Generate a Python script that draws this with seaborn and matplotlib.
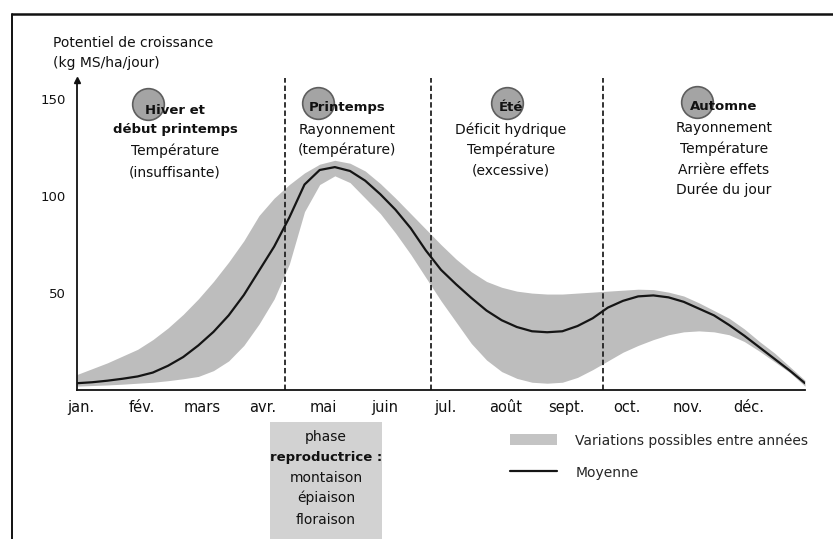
import numpy as np
import pandas as pd
import matplotlib
matplotlib.use("Agg")
import matplotlib.pyplot as plt
import seaborn as sns
from matplotlib.patches import Rectangle, Patch
from matplotlib.lines import Line2D
import matplotlib.transforms as mtrans

# ---------------- data ----------------
months_pos = [0, 0.25, 0.5, 0.75, 1, 1.25, 1.5, 1.75, 2, 2.25, 2.5, 2.75,
              3, 3.25, 3.5, 3.75, 4, 4.25, 4.5, 4.75, 5, 5.25, 5.5, 5.75,
              6, 6.25, 6.5, 6.75, 7, 7.25, 7.5, 7.75, 8, 8.25, 8.5, 8.75,
              9, 9.25, 9.5, 9.75, 10, 10.25, 10.5, 10.75, 11, 11.25, 11.5, 11.75, 12]
mean_vals = [3.5, 4, 4.8, 5.8, 7, 9, 12.5, 17, 23, 30, 38.5, 49,
             61.5, 74, 89, 106, 113.5, 115, 113, 108, 101, 93, 83.5, 72,
             62, 54.5, 47.5, 41, 36, 32.5, 30.3, 29.8, 30.3, 33, 37, 42.5,
             46, 48.3, 48.8, 47.8, 45.5, 42, 38.5, 33.5, 28, 22, 16, 10, 3.5]
upper_vals = [8, 11, 14, 17.5, 21, 26, 32, 39, 47, 56, 66, 77,
              90, 99, 106, 112, 116.5, 118.5, 117, 113, 106.5, 99, 91, 83,
              75, 67.5, 61, 56, 53, 51, 50, 49.5, 49.5, 50, 50.5, 51,
              51.5, 52, 51.8, 50.5, 48.5, 45, 41, 37, 31.5, 25, 19, 12, 5]
lower_vals = [2, 2.3, 2.6, 3, 3.5, 4, 4.8, 5.8, 7, 10, 15, 23,
              34, 47, 65, 92, 106, 110.5, 107, 99, 91, 81, 70, 58,
              46, 35, 24, 15.5, 9.5, 6, 4, 3.5, 4, 6.5, 10.5, 15,
              19.5, 23, 26, 28.5, 30, 30.5, 30, 28.5, 25, 20, 14.5, 9, 2]

month_labels = ["jan.", "fév.", "mars", "avr.", "mai", "juin", "jul.",
                "août", "sept.", "oct.", "nov.", "déc."]
yticks = [50, 100, 150]
season_bounds = [3.43, 5.83, 8.67]

seasons = [
    {"circle": (1.17, 147.6), "cx": 175,
     "lines": [("Hiver et", "bold", 110), ("début printemps", "bold", 130),
               ("Température", "normal", 151), ("(insuffisante)", "normal", 172)]},
    {"circle": (3.97, 148.0), "cx": 347,
     "lines": [("Printemps", "bold", 108), ("Rayonnement", "normal", 130),
               ("(température)", "normal", 150)]},
    {"circle": (7.09, 148.0), "cx": 511,
     "lines": [("Été", "bold", 108), ("Déficit hydrique", "normal", 130),
               ("Température", "normal", 150), ("(excessive)", "normal", 171)]},
    {"circle": (10.22, 148.6), "cx": 724,
     "lines": [("Automne", "bold", 107), ("Rayonnement", "normal", 128),
               ("Température", "normal", 149), ("Arrière effets", "normal", 170),
               ("Durée du jour", "normal", 190)]},
]
phase_lines = [("phase", "normal", 437), ("reproductrice :", "bold", 457),
               ("montaison", "normal", 478), ("épiaison", "normal", 498),
               ("floraison", "normal", 520)]

df = pd.DataFrame({"mois": months_pos, "moyenne": mean_vals,
                   "haut": upper_vals, "bas": lower_vals})

# ---------------- figure ----------------
sns.set_theme(style="white")
plt.rcParams["font.family"] = ["DejaVu Sans"]

W, H = 833, 539
fig = plt.figure(figsize=(W / 100, H / 100), dpi=100)
fig.patch.set_facecolor("white")


def fx(px):
    return px / W


def fy(py):
    return 1 - py / H


YMAX = 162
ax = fig.add_axes([fx(77), fy(390), 728 / W, (390 - 76) / H])
ax.set_xlim(0, 12)
ax.set_ylim(0, YMAX)
ax.set_facecolor("none")

# band
ax.fill_between(df["mois"], df["bas"], df["haut"], color="#bdbdbd",
                linewidth=0, zorder=1)
# mean line
sns.lineplot(data=df, x="mois", y="moyenne", ax=ax, color="#151515",
             linewidth=1.6, zorder=3, legend=False)

# season separators
for b in season_bounds:
    ax.plot([b, b], [0, 161], color="#222222", linewidth=1.3,
            linestyle=(0, (3, 1.6)), zorder=2, clip_on=False)

# circles
for s in seasons:
    ax.scatter([s["circle"][0]], [s["circle"][1]], s=520, color="#a4a4a4",
               edgecolor="#5e5e5e", linewidth=1.2, zorder=4, clip_on=False)

# axes styling
for sp in ["top", "right"]:
    ax.spines[sp].set_visible(False)
ax.spines["left"].set_bounds(0, 160)
ax.spines["left"].set_color("#111111")
ax.spines["bottom"].set_color("#111111")
ax.spines["left"].set_linewidth(1.3)
ax.spines["bottom"].set_linewidth(1.3)
ax.plot([0], [160], marker="^", color="#111111", markersize=4,
        clip_on=False, zorder=5)

ax.set_xticks(range(13))
ax.set_xticklabels(month_labels + [""], fontsize=10.5, color="#111111")
ax.set_yticks(yticks)
ax.set_yticklabels([str(v) for v in yticks], fontsize=9.5, color="#111111")
ax.tick_params(axis="both", direction="inout", length=8, width=1.1,
               color="#111111")
ax.tick_params(axis="x", pad=3)
ax.tick_params(axis="y", pad=4)
offset = mtrans.ScaledTranslation(4 / 100, 0, fig.dpi_scale_trans)
for lab in ax.get_xticklabels():
    lab.set_transform(lab.get_transform() + offset)
ax.set_xlabel("")
ax.set_ylabel("")

# y axis title
fig.text(fx(53), fy(43), "Potentiel de croissance", fontsize=10,
         ha="left", va="center", color="#111111")
fig.text(fx(53), fy(63), "(kg MS/ha/jour)", fontsize=10,
         ha="left", va="center", color="#111111")

# season texts
for s in seasons:
    for txt, wt, py in s["lines"]:
        fig.text(fx(s["cx"]), fy(py), txt, fontsize=9.5 if wt == "bold" else 10,
                 fontweight=wt, ha="center", va="center", color="#111111",
                 zorder=10)

# phase box
fig.patches.append(Rectangle((fx(270), 0), fx(382) - fx(270), fy(422),
                             transform=fig.transFigure, facecolor="#d2d2d2",
                             edgecolor="none", zorder=0))
for txt, wt, py in phase_lines:
    fig.text(fx(326), fy(py), txt, fontsize=9.5 if wt == "bold" else 10,
             fontweight=wt, ha="center", va="center", color="#111111")

# outer frame (left and top)
fig.add_artist(Line2D([fx(12), fx(12)], [0, fy(14)], transform=fig.transFigure,
                      color="#111111", linewidth=1.4))
fig.add_artist(Line2D([fx(12), 1], [fy(14), fy(14)], transform=fig.transFigure,
                      color="#111111", linewidth=1.8))

# legend
handles = [Patch(facecolor="#c4c4c4", edgecolor="none"),
           Line2D([0], [0], color="#151515", linewidth=1.6)]
labels = ["Variations possibles entre années", "Moyenne"]
fig.legend(handles, labels, loc="upper left",
           bbox_to_anchor=(fx(510), fy(433)), frameon=False, fontsize=10,
           handlelength=3.4, handleheight=0.8, handletextpad=1.3,
           labelspacing=1.3, borderpad=0, borderaxespad=0)

fig.savefig("out.png", dpi=100, facecolor="white")
